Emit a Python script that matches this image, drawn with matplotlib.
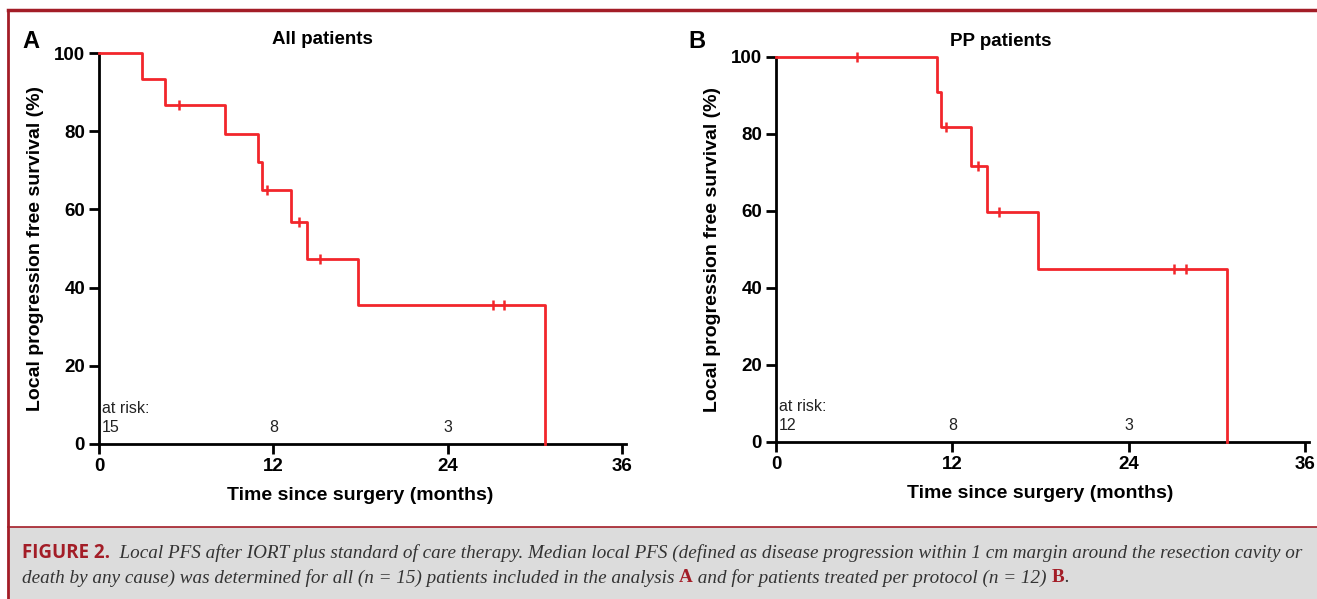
import matplotlib
matplotlib.use("Agg")
import matplotlib.pyplot as plt
from matplotlib.patches import Rectangle
from matplotlib.lines import Line2D

# Panel A: all patients (n = 15)
a_times = [0, 2.94, 4.52, 8.65, 10.96, 11.19, 13.25, 14.33, 17.86, 30.67]
a_surv = [100, 93.3, 86.7, 79.4, 72.2, 65.0, 56.9, 47.4, 35.6, 0]
a_cens_t = [5.52, 11.53, 13.76, 15.2, 27.1, 27.9]
a_cens_s = [86.7, 65.0, 56.9, 47.4, 35.6, 35.6]
a_risk_t = [0, 12, 24]
a_risk_n = ["15", "8", "3"]

# Panel B: per-protocol patients (n = 12)
b_times = [0, 10.94, 11.23, 13.25, 14.34, 17.86, 30.72]
b_surv = [100, 90.9, 81.8, 71.6, 59.7, 44.8, 0]
b_cens_t = [5.5, 11.55, 13.77, 15.2, 27.1, 27.9]
b_cens_s = [100, 81.8, 71.6, 59.7, 44.8, 44.8]
b_risk_t = [0, 12, 24]
b_risk_n = ["12", "8", "3"]

x_ticks = [0, 12, 24, 36]
y_ticks = [0, 20, 40, 60, 80, 100]

W, H = 1317, 599
CURVE = "#f2262b"
DARKRED = "#a31d27"
plt.rcParams["font.family"] = ["Liberation Sans", "DejaVu Sans"]


def fx(px):
    return px / W


def fy(py):
    return 1 - py / H


def km_panel(fig, rect, times, surv, cens_t, cens_s, risk_t, risk_n, title, letter, title_xy, letter_xy):
    ax = fig.add_axes(rect)
    ax.step(times, surv, where="post", color=CURVE, lw=2, clip_on=False, zorder=3)
    ax.plot(cens_t, cens_s, ls="none", marker="|", ms=7, mew=1.8, color=CURVE, clip_on=False, zorder=4)
    ax.set_xlim(0, 36)
    ax.set_ylim(0, 100)
    ax.set_xticks(x_ticks)
    ax.set_yticks(y_ticks)
    for side in ("top", "right"):
        ax.spines[side].set_visible(False)
    for side in ("left", "bottom"):
        ax.spines[side].set_linewidth(2)
    ax.spines["bottom"].set_bounds(0, 36.3)
    ax.tick_params(length=7, width=2, labelsize=13.5, pad=3)
    for lab in ax.get_xticklabels() + ax.get_yticklabels():
        lab.set_fontweight("bold")
    ax.set_xlabel("Time since surgery (months)", fontsize=14, fontweight="bold", labelpad=9)
    ax.set_ylabel("Local progression free survival (%)", fontsize=14, fontweight="bold", labelpad=7)

    ax.text(0.2, 9.2, "at risk:", fontsize=11.5, ha="left", va="center", color="#222222")
    for t, n in zip(risk_t, risk_n):
        ha = "left" if t == 0 else "center"
        ax.text(t + (0.2 if t == 0 else 0), 4.3, n, fontsize=11.5, ha=ha, va="center", color="#222222")

    fig.text(fx(title_xy[0]), fy(title_xy[1]), title, fontsize=13.5, fontweight="bold",
             ha="center", va="center")
    fig.text(fx(letter_xy[0]), fy(letter_xy[1]), letter, fontsize=17, fontweight="bold",
             ha="center", va="center")
    return ax


fig = plt.figure(figsize=(W / 100, H / 100), dpi=100)

# frame and caption band
fig.patches.append(Rectangle((fx(8), 0), 1, fy(527), transform=fig.transFigure,
                             facecolor="#dcdcdc", edgecolor="none", zorder=0))
fig.lines.append(Line2D([fx(8), 1], [fy(10), fy(10)], transform=fig.transFigure, color=DARKRED, lw=2.5))
fig.lines.append(Line2D([fx(8), fx(8)], [0, fy(10)], transform=fig.transFigure, color=DARKRED, lw=2))
fig.lines.append(Line2D([fx(8), 1], [fy(527), fy(527)], transform=fig.transFigure, color=DARKRED, lw=1.2))

km_panel(fig, [fx(99), fy(444), fx(622 - 99), (444 - 53) / H],
         a_times, a_surv, a_cens_t, a_cens_s, a_risk_t, a_risk_n,
         "All patients", "A", (322, 39), (31, 41))
km_panel(fig, [fx(776), fy(441.7), fx(1305 - 776), (441.7 - 56.7) / H],
         b_times, b_surv, b_cens_t, b_cens_s, b_risk_t, b_risk_n,
         "PP patients", "B", (1001, 41), (697, 41))

# caption, built piece by piece so the parts sit next to each other
fig.canvas.draw()
renderer = fig.canvas.get_renderer()
cap_style = dict(fontsize=13.8, style="italic", family=["Liberation Serif", "DejaVu Serif"], color="#333333")
red_style = dict(fontsize=13.8, fontweight="bold", family=["Liberation Serif", "DejaVu Serif"], color=DARKRED)


def chain(pieces, x0, y0):
    x = x0
    for txt, style in pieces:
        t = fig.text(fx(x), fy(y0), txt, va="center", ha="left", **style)
        bb = t.get_window_extent(renderer)
        x += bb.width


chain([("FIGURE 2.", dict(fontsize=13.5, fontweight="bold", color=DARKRED, family=["Open Sans", "DejaVu Sans"])),
       ("  Local PFS after IORT plus standard of care therapy. Median local PFS (defined as disease progression "
        "within 1 cm margin around the resection cavity or", cap_style)], 22, 553)
chain([("death by any cause) was determined for all (n = 15) patients included in the analysis ", cap_style),
       ("A", red_style),
       (" and for patients treated per protocol (n = 12) ", cap_style),
       ("B", red_style),
       (".", cap_style)], 22, 578)

fig.savefig("out.png", dpi=100)
